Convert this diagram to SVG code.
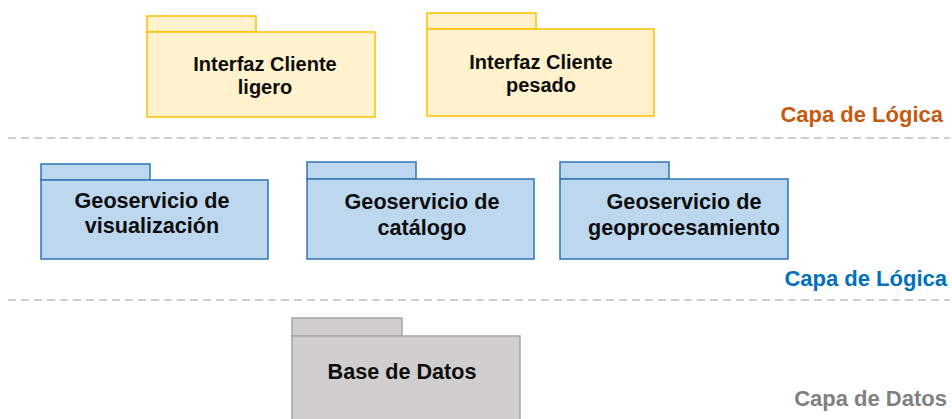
<svg xmlns="http://www.w3.org/2000/svg" width="952" height="419" viewBox="0 0 952 419">
<style>
.y{fill:#fff2cc;stroke:#ffc000;stroke-width:1.5}
.b{fill:#bdd7ee;stroke:#2e75b6;stroke-width:1.5}
.g{fill:#d0cece;stroke:#a5a5a5;stroke-width:1.5}
.t{font-family:"Liberation Sans",Arial,sans-serif;font-weight:bold;font-size:20px;fill:#0d0d0d;text-anchor:middle}
.t2{font-size:21.6px}
.l{font-family:"Liberation Sans",Arial,sans-serif;font-weight:bold;font-size:22px;text-anchor:end}
.d{stroke:#bfbfbf;stroke-width:1.5;stroke-dasharray:8 5;fill:none}
</style>
<g id="separators">
<line class="d" x1="8" y1="138" x2="950" y2="138"/>
<line class="d" x1="8" y1="300" x2="950" y2="300"/>
</g>
<g id="n1">
<rect class="y" x="147" y="16" width="109" height="16"/>
<rect class="y" x="147" y="32" width="228" height="85"/>
<text class="t" x="265" y="71">Interfaz Cliente</text>
<text class="t" x="265" y="94">ligero</text>
</g>
<g id="n2">
<rect class="y" x="427" y="13" width="109" height="16"/>
<rect class="y" x="427" y="29" width="227" height="87"/>
<text class="t" x="541" y="69">Interfaz Cliente</text>
<text class="t" x="541" y="92">pesado</text>
</g>
<g id="n3">
<rect class="b" x="41" y="164" width="109" height="16"/>
<rect class="b" x="41" y="180" width="227" height="79"/>
<text class="t t2" x="152" y="208">Geoservicio de</text>
<text class="t t2" x="152" y="233">visualización</text>
</g>
<g id="n4">
<rect class="b" x="307" y="162" width="109" height="17"/>
<rect class="b" x="307" y="179" width="227" height="80"/>
<text class="t t2" x="422" y="209">Geoservicio de</text>
<text class="t t2" x="422" y="235">catálogo</text>
</g>
<g id="n5">
<rect class="b" x="560" y="162" width="109" height="17"/>
<rect class="b" x="560" y="179" width="228" height="80"/>
<text class="t t2" x="684" y="209">Geoservicio de</text>
<text class="t t2" x="684" y="235">geoprocesamiento</text>
</g>
<g id="n6">
<rect class="g" x="292" y="318" width="110" height="18"/>
<rect class="g" x="292" y="336" width="228" height="90"/>
<text class="t t2" x="402" y="379">Base de Datos</text>
</g>
<g id="labels">
<text class="l" x="943" y="122" fill="#c55a11">Capa de Lógica</text>
<text class="l" x="947" y="286" fill="#0070c0">Capa de Lógica</text>
<text class="l" x="947" y="406" fill="#808080">Capa de Datos</text>
</g>
</svg>
